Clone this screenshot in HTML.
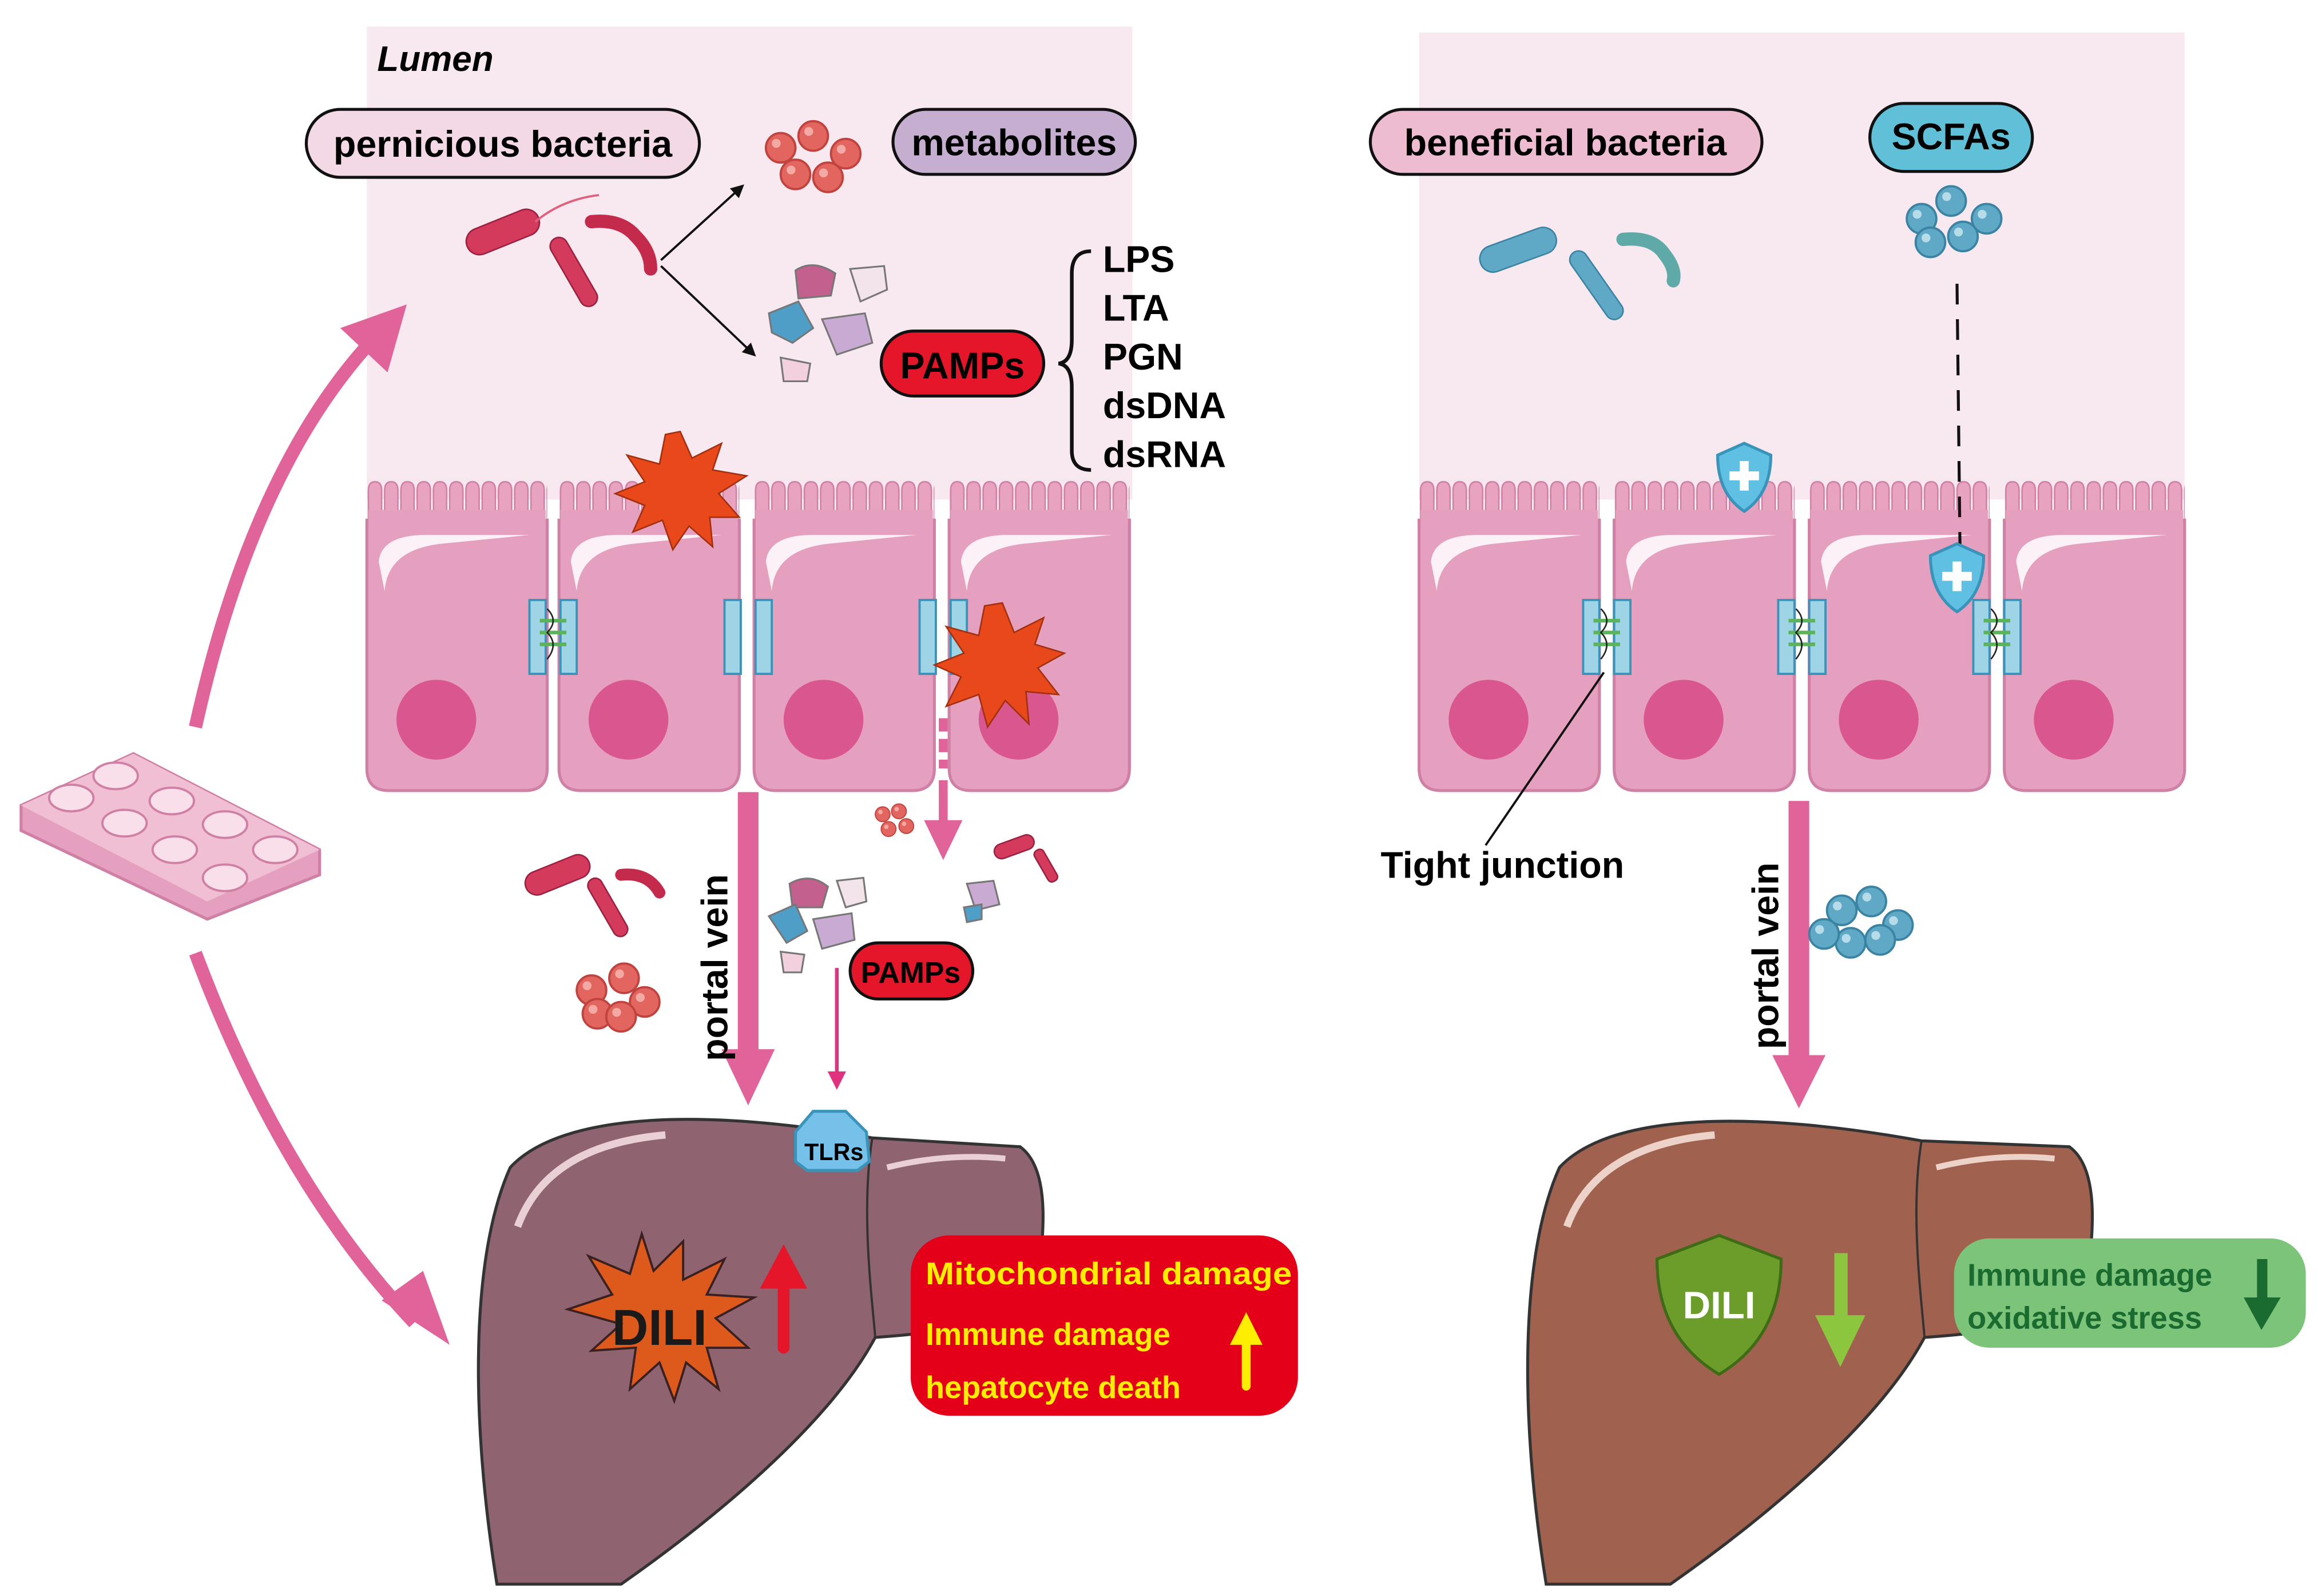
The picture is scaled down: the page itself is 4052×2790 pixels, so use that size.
<!DOCTYPE html>
<html><head><meta charset="utf-8"><style>
html,body{margin:0;padding:0;background:#fff;}
svg{display:block;}
text{font-family:"Liberation Sans",sans-serif;font-weight:bold;}
</style></head><body>
<svg width="4052" height="2790" viewBox="0 0 1568 1080" xmlns="http://www.w3.org/2000/svg">
<defs>
<pattern id="mv" x="0" y="325" width="11" height="60" patternUnits="userSpaceOnUse">
<path d="M1,60 L1,7 Q1,1 5.5,1 Q10,1 10,7 L10,60 Z" fill="#e8a3c1" stroke="#d07fa5" stroke-width="1"/>
</pattern>
<marker id="ah" viewBox="0 0 10 10" refX="8" refY="5" markerWidth="6" markerHeight="6" orient="auto"><path d="M0,0 L10,5 L0,10 Z" fill="#111"/></marker>
<marker id="ahp" viewBox="0 0 10 10" refX="8" refY="5" markerWidth="5" markerHeight="5" orient="auto"><path d="M0,0 L10,5 L0,10 Z" fill="#e0337f"/></marker>
<g id="cell">
<rect x="0" y="325" width="122" height="40" fill="url(#mv)"/>
<path d="M0,352 L122,352 L122,520 Q122,535 107,535 L15,535 Q0,535 0,520 Z" fill="#e6a0bf" stroke="#d07fa5" stroke-width="2"/>
<rect x="1" y="345" width="120" height="10" fill="#e6a0bf"/>
<path d="M8,380 Q10,362 40,362 L110,362 L50,368 Q14,372 12,400 Z" fill="#fff" opacity="0.85"/>
<circle cx="47" cy="487" r="27" fill="#d9568f"/>
</g>
<g id="tj">
<rect x="-16" y="406" width="11" height="50" fill="#9fd3e6" stroke="#3a93b8" stroke-width="1.5"/>
<rect x="5" y="406" width="11" height="50" fill="#9fd3e6" stroke="#3a93b8" stroke-width="1.5"/>
<g stroke="#5bb35b" stroke-width="2.5"><line x1="-9" y1="420" x2="9" y2="420"/><line x1="-9" y1="428" x2="9" y2="428"/><line x1="-9" y1="436" x2="9" y2="436"/></g>
<path d="M-4,412 Q4,420 -4,428 Q4,436 -4,446" fill="none" stroke="#222" stroke-width="1"/>
</g>
<g id="ball"><circle r="10" fill="#e2655f" stroke="#c0433f" stroke-width="1.5"/><circle cx="-3" cy="-3" r="3" fill="#f3a9a4"/></g>
<g id="bball"><circle r="10" fill="#5fa9c6" stroke="#3a83a3" stroke-width="1.5"/><circle cx="-3" cy="-3" r="3" fill="#b6dcea"/></g>
<g id="shield"><path d="M0,-22 L18,-14 Q18,12 0,24 Q-18,12 -18,-14 Z" fill="#5fc0e3" stroke="#3a93b8" stroke-width="2"/><path d="M-3,-10 h6 v7 h7 v6 h-7 v7 h-6 v-7 h-7 v-6 h7 Z" fill="#fff"/></g>
</defs>

<rect x="248" y="18" width="518" height="320" fill="#f8e8ef"/>
<rect x="960" y="22" width="518" height="316" fill="#f8e8ef"/>
<text x="255" y="48" font-size="24" font-style="italic">Lumen</text>

<use href="#cell" x="248"/><use href="#cell" x="378"/><use href="#cell" x="510"/><use href="#cell" x="642"/>
<use href="#tj" x="374"/>
<rect x="490" y="406" width="11" height="50" fill="#9fd3e6" stroke="#3a93b8" stroke-width="1.5"/>
<rect x="511" y="406" width="11" height="50" fill="#9fd3e6" stroke="#3a93b8" stroke-width="1.5"/>
<rect x="622" y="406" width="11" height="50" fill="#9fd3e6" stroke="#3a93b8" stroke-width="1.5"/>
<rect x="643" y="406" width="11" height="50" fill="#9fd3e6" stroke="#3a93b8" stroke-width="1.5"/>
<use href="#cell" x="960"/><use href="#cell" x="1092"/><use href="#cell" x="1224"/><use href="#cell" x="1356"/>
<use href="#tj" x="1087"/><use href="#tj" x="1219"/><use href="#tj" x="1351"/>

<polygon points="460,292 468,310 488,300 482,318 505,322 486,334 500,350 480,350 482,370 466,356 455,372 448,352 428,360 436,342 416,334 436,326 424,308 446,314 450,294" fill="#e8481a" stroke="#a03010" stroke-width="1"/>
<polygon points="678,408 686,428 706,418 700,436 720,442 702,452 716,470 694,468 696,490 680,474 668,492 662,470 640,478 650,458 632,450 652,442 640,424 662,430 666,410" fill="#e8481a" stroke="#a03010" stroke-width="1"/>

<rect x="207" y="74" width="266" height="46" rx="23" fill="#f3d9e6" stroke="#111" stroke-width="2"/>
<text x="340" y="106" font-size="25" text-anchor="middle">pernicious bacteria</text>
<rect x="604" y="74" width="164" height="44" rx="22" fill="#c5aed0" stroke="#111" stroke-width="2"/>
<text x="686" y="105" font-size="25" text-anchor="middle">metabolites</text>
<rect x="596" y="224" width="110" height="44" rx="22" fill="#e5162a" stroke="#111" stroke-width="2"/>
<text x="651" y="256" font-size="25" text-anchor="middle">PAMPs</text>
<path d="M738,170 Q725,170 725,185 L725,230 Q725,245 716,246 Q725,247 725,262 L725,305 Q725,318 738,318" fill="none" stroke="#111" stroke-width="2.5"/>
<g font-size="25"><text x="746" y="184">LPS</text><text x="746" y="217">LTA</text><text x="746" y="250">PGN</text><text x="746" y="283">dsDNA</text><text x="746" y="316">dsRNA</text></g>
<rect x="927" y="74" width="265" height="44" rx="22" fill="#eebcd1" stroke="#111" stroke-width="2"/>
<text x="1059" y="105" font-size="25" text-anchor="middle">beneficial bacteria</text>
<rect x="1265" y="70" width="110" height="46" rx="23" fill="#5fc0d8" stroke="#111" stroke-width="2"/>
<text x="1320" y="101" font-size="25" text-anchor="middle">SCFAs</text>

<g fill="#d33a5c" stroke="#9c2040" stroke-width="1">
<rect x="314" y="148" width="52" height="18" rx="9" transform="rotate(-22 340 157)"/>
<rect x="382" y="158" width="12" height="52" rx="6" transform="rotate(-30 388 184)"/>
<path d="M400,150 Q420,148 430,160 Q440,170 440,182" fill="none" stroke="#c42a4c" stroke-width="9" stroke-linecap="round"/>
</g>
<path d="M362,150 Q380,135 405,132" fill="none" stroke="#e06080" stroke-width="1.5"/>
<line x1="447" y1="176" x2="502" y2="126" stroke="#111" stroke-width="1.5" marker-end="url(#ah)"/>
<line x1="447" y1="180" x2="510" y2="240" stroke="#111" stroke-width="1.5" marker-end="url(#ah)"/>
<use href="#ball" x="528" y="100"/><use href="#ball" x="550" y="92"/><use href="#ball" x="572" y="104"/><use href="#ball" x="538" y="118"/><use href="#ball" x="560" y="120"/>
<g stroke="#777" stroke-width="1.2">
<path d="M538,183 Q550,175 565,185 L562,200 L540,202 Z" fill="#c3608e"/>
<path d="M575,182 L598,180 L600,196 L582,204 Z" fill="#f3e3ea"/>
<path d="M520,212 L540,204 L550,222 L536,232 L522,225 Z" fill="#4e9ec7"/>
<path d="M556,216 L585,212 L590,232 L566,240 Z" fill="#c9aad2"/>
<path d="M528,242 L548,246 L546,258 L530,258 Z" fill="#f3d0dd"/>
</g>

<g fill="#5fa9c6" stroke="#3a83a3" stroke-width="1">
<rect x="1000" y="160" width="54" height="18" rx="9" transform="rotate(-20 1027 169)"/>
<rect x="1074" y="166" width="12" height="54" rx="6" transform="rotate(-35 1080 193)"/>
<path d="M1098,162 Q1118,160 1126,172 Q1134,182 1132,190" fill="none" stroke="#5fa9a8" stroke-width="9" stroke-linecap="round"/>
</g>
<use href="#bball" x="1320" y="136"/><use href="#bball" x="1300" y="148"/><use href="#bball" x="1344" y="148"/><use href="#bball" x="1306" y="164"/><use href="#bball" x="1328" y="160"/>
<line x1="1324" y1="192" x2="1326" y2="370" stroke="#111" stroke-width="2" stroke-dasharray="14,10"/>
<use href="#shield" x="1180" y="322"/><use href="#shield" x="1324" y="390"/>
<line x1="1085" y1="455" x2="1005" y2="572" stroke="#111" stroke-width="1.5"/>
<text x="934" y="594" font-size="25">Tight junction</text>

<g fill="#e0649a">
<rect x="499" y="536" width="14" height="180"/><polygon points="488,710 524,710 506,748"/>
<rect x="1210" y="542" width="14" height="178"/><polygon points="1199,714 1235,714 1217,750"/>
</g>
<text transform="translate(492,718) rotate(-90)" font-size="25">portal vein</text>
<text transform="translate(1203,710) rotate(-90)" font-size="25">portal vein</text>
<line x1="638" y1="486" x2="638" y2="520" stroke="#e0649a" stroke-width="6" stroke-dasharray="9,5"/>
<rect x="635" y="528" width="6" height="30" fill="#e0649a"/><polygon points="625,555 651,555 638,582" fill="#e0649a"/>
<line x1="566" y1="655" x2="566" y2="735" stroke="#e0337f" stroke-width="2.5" marker-end="url(#ahp)"/>

<g fill="#d33a5c" stroke="#9c2040" stroke-width="1">
<rect x="354" y="584" width="46" height="16" rx="8" transform="rotate(-22 377 592)"/>
<rect x="406" y="592" width="10" height="44" rx="5" transform="rotate(-30 411 614)"/>
<path d="M420,592 Q438,590 446,604" fill="none" stroke="#c42a4c" stroke-width="8" stroke-linecap="round"/>
<rect x="672" y="568" width="28" height="10" rx="5" transform="rotate(-20 686 573)"/>
<rect x="704" y="574" width="7" height="24" rx="3" transform="rotate(-30 707 586)"/>
</g>
<use href="#ball" x="400" y="670"/><use href="#ball" x="422" y="662"/><use href="#ball" x="436" y="678"/><use href="#ball" x="404" y="686"/><use href="#ball" x="420" y="688"/>
<g transform="translate(604,555) scale(0.5)"><use href="#ball" x="-14" y="-8"/><use href="#ball" x="8" y="-12"/><use href="#ball" x="18" y="8"/><use href="#ball" x="-6" y="12"/></g>
<g stroke="#777" stroke-width="1.2">
<path d="M534,598 Q548,590 560,600 L556,614 L536,614 Z" fill="#c3608e"/>
<path d="M566,596 L584,594 L586,610 L572,614 Z" fill="#f3e3ea"/>
<path d="M520,620 L538,612 L546,630 L532,638 Z" fill="#4e9ec7"/>
<path d="M550,622 L576,618 L578,636 L556,642 Z" fill="#c9aad2"/>
<path d="M528,644 L544,646 L542,658 L530,658 Z" fill="#f3d0dd"/>
<path d="M654,598 L672,596 L676,612 L660,616 Z" fill="#c9aad2"/>
<path d="M652,614 L664,612 L664,622 L654,624 Z" fill="#4e9ec7"/>
</g>
<rect x="575" y="638" width="83" height="38" rx="19" fill="#e5162a" stroke="#111" stroke-width="2"/>
<text x="616" y="665" font-size="20" text-anchor="middle">PAMPs</text>
<g transform="translate(1262,628)"><use href="#bball" x="-16" y="-12"/><use href="#bball" x="4" y="-18"/><use href="#bball" x="22" y="-2"/><use href="#bball" x="-10" y="10"/><use href="#bball" x="10" y="8"/><use href="#bball" x="-28" y="4"/></g>

<path d="M132,492 Q170,320 250,232" fill="none" stroke="#e0649a" stroke-width="9"/>
<polygon points="275,206 230,222 262,252" fill="#e0649a"/>
<path d="M132,645 Q190,800 280,895" fill="none" stroke="#e0649a" stroke-width="9"/>
<polygon points="304,910 258,880 286,860" fill="#e0649a"/>
<polygon points="14,545 90,510 216,575 216,592 140,622 14,562" fill="#e6a0bf" stroke="#d07fa5" stroke-width="2"/>
<polygon points="14,545 90,510 216,575 140,610" fill="#f0bfd3"/>
<g fill="#f8dfe9" stroke="#d07fa5" stroke-width="1.5">
<ellipse cx="78" cy="525" rx="15" ry="9"/><ellipse cx="116" cy="542" rx="15" ry="9"/><ellipse cx="152" cy="558" rx="15" ry="9"/><ellipse cx="186" cy="575" rx="15" ry="9"/>
<ellipse cx="48" cy="540" rx="15" ry="9"/><ellipse cx="84" cy="557" rx="15" ry="9"/><ellipse cx="118" cy="575" rx="15" ry="9"/><ellipse cx="152" cy="594" rx="15" ry="9"/>
</g>

<path d="M345,790 C380,752 480,750 590,770 L690,776 C712,792 706,840 700,880 C680,898 620,903 592,905 C560,965 480,1030 420,1072 L336,1072 C318,960 318,850 345,790 Z" fill="#8f6370" stroke="#333" stroke-width="2"/>
<path d="M590,770 C582,820 590,880 592,905" fill="none" stroke="#333" stroke-width="1.5"/>
<path d="M350,830 Q370,775 450,768" fill="none" stroke="#e9d0d5" stroke-width="5"/>
<path d="M600,790 Q640,780 680,784" fill="none" stroke="#e9d0d5" stroke-width="4"/>
<path d="M550,752 L572,752 L586,766 L588,786 L580,792 L546,792 L538,786 L538,766 Z" fill="#75c1ea" stroke="#3a93b8" stroke-width="2"/>
<text x="564" y="785" font-size="16" text-anchor="middle">TLRs</text>
<polygon points="434,835 442,860 462,840 462,866 490,852 478,876 510,878 484,892 506,912 478,912 486,940 464,922 456,948 446,922 426,940 430,912 400,914 420,896 384,886 414,876 398,850 426,862" fill="#dd5a1c" stroke="#3a2020" stroke-width="1.5"/>
<text x="446" y="910" font-size="34" text-anchor="middle" fill="#1a1a1a">DILI</text>
<rect x="526" y="860" width="8" height="56" rx="4" fill="#e5162a"/><polygon points="514,872 546,872 530,842" fill="#e5162a"/>
<rect x="616" y="836" width="262" height="122" rx="26" fill="#e5001a"/>
<g font-size="21" fill="#ffee00"><text x="626" y="869" textLength="248" lengthAdjust="spacingAndGlyphs">Mitochondrial damage</text><text x="626" y="910">Immune damage</text><text x="626" y="946">hepatocyte death</text></g>
<rect x="840" y="905" width="6" height="36" rx="3" fill="#ffee00"/><polygon points="832,910 854,910 843,888" fill="#ffee00"/>

<path d="M1055,790 C1090,752 1190,752 1300,772 L1400,776 C1422,792 1416,840 1410,880 C1390,898 1330,903 1302,905 C1270,965 1190,1030 1130,1072 L1046,1072 C1028,960 1028,850 1055,790 Z" fill="#a0624f" stroke="#333" stroke-width="2"/>
<path d="M1300,772 C1292,820 1300,880 1302,905" fill="none" stroke="#333" stroke-width="1.5"/>
<path d="M1060,830 Q1080,775 1160,768" fill="none" stroke="#ecd2c8" stroke-width="5"/>
<path d="M1310,790 Q1350,780 1390,784" fill="none" stroke="#ecd2c8" stroke-width="4"/>
<path d="M1163,836 L1205,852 Q1205,905 1163,930 Q1121,905 1121,852 Z" fill="#6c9d2b" stroke="#3f6a16" stroke-width="2"/>
<text x="1163" y="892" font-size="26" text-anchor="middle" fill="#fff">DILI</text>
<rect x="1241" y="848" width="9" height="52" fill="#8cc63f"/><polygon points="1228,890 1262,890 1245,925" fill="#8cc63f"/>
<rect x="1322" y="838" width="238" height="74" rx="24" fill="#7cc47a"/>
<g font-size="21" fill="#1a6b30"><text x="1331" y="870">Immune damage</text><text x="1331" y="899">oxidative stress</text></g>
<rect x="1527" y="852" width="7" height="32" fill="#1a6b30"/><polygon points="1518,878 1543,878 1530,900" fill="#1a6b30"/>
</svg>
</body></html>
